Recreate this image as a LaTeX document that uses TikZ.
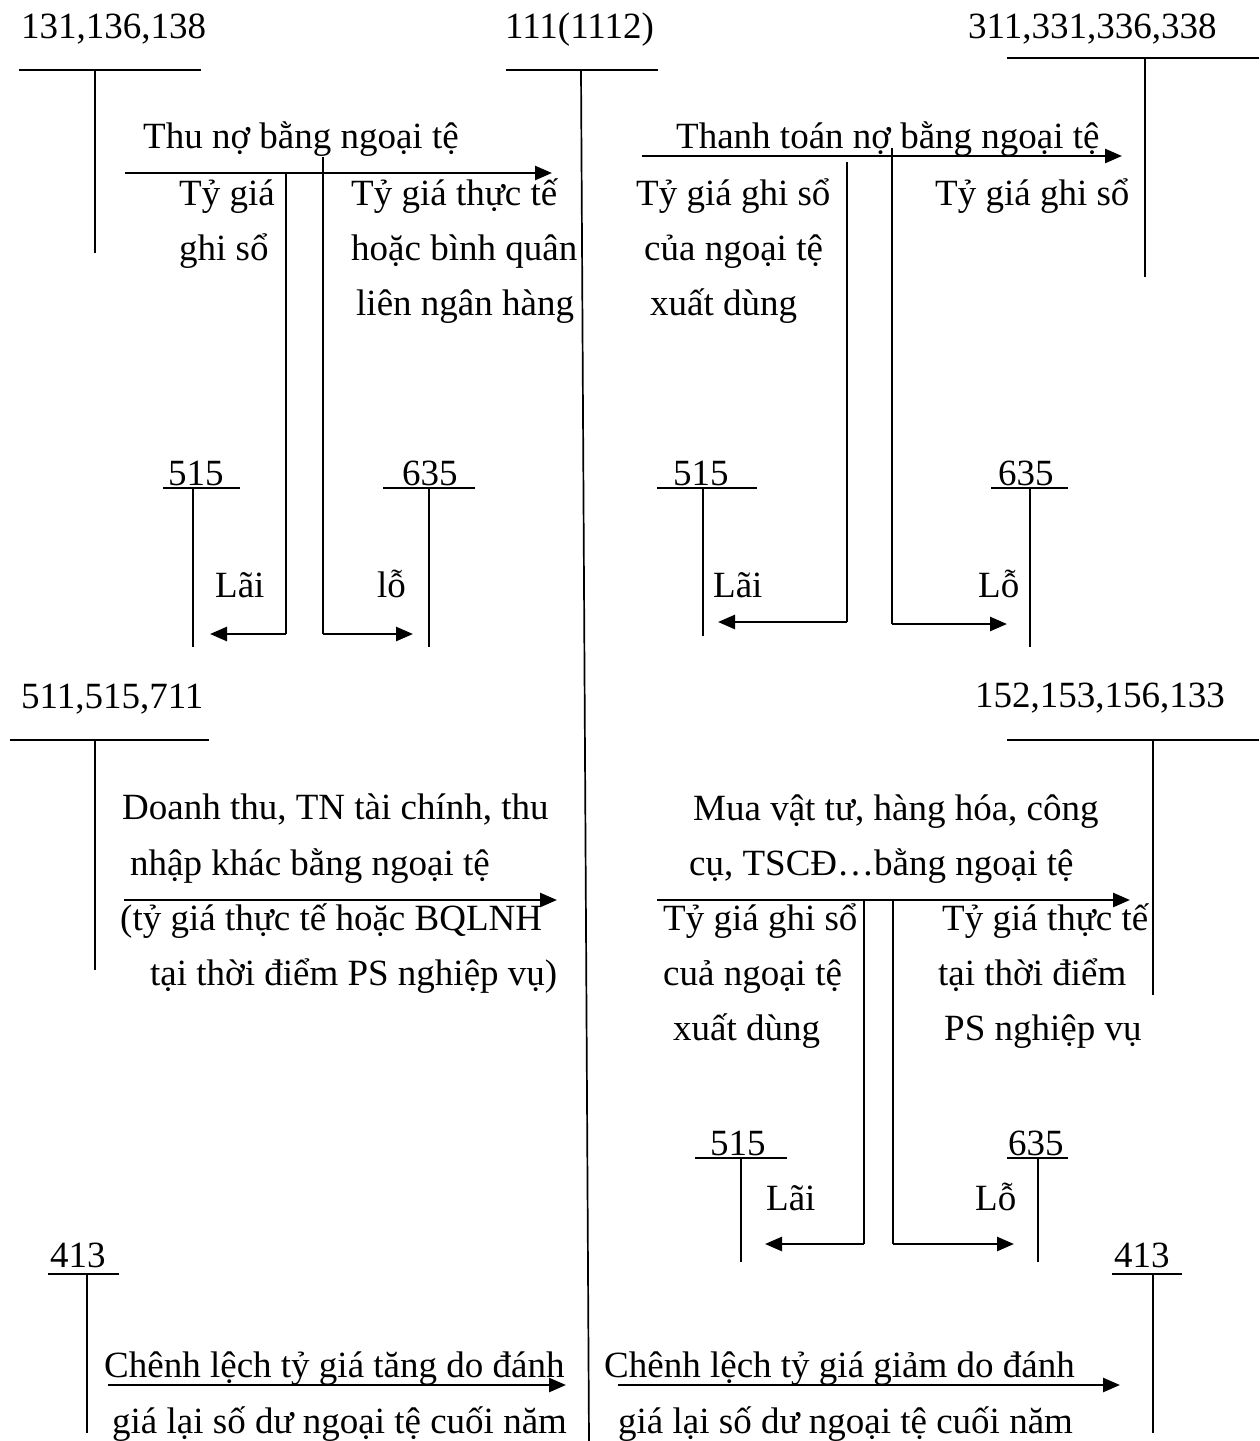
\documentclass[tikz,border=0pt]{standalone}
\usepackage{fontspec}
\setmainfont{Liberation Serif}
\usetikzlibrary{arrows.meta}
\begin{document}
\begin{tikzpicture}[x=1pt,y=-1pt,
  lbl/.style={anchor=base west,inner sep=0pt,font=\fontsize{37}{44}\selectfont},
  tline/.style={line width=1.7pt},
  branch/.style={line width=2pt},
  flow/.style={line width=2.6pt,-{Triangle[length=17pt,width=14pt]}}]
\useasboundingbox (0,0) rectangle (1259,1441);

% ---------- account headers (top) ----------
\node[lbl] (a131) at (21,38) {131,136,138};
\node[lbl] (a111) at (505,38) {111(1112)};
\node[lbl] (a311) at (968,38) {311,331,336,338};
\draw[tline] (19,70) -- (201,70);  \draw[tline] (95,70) -- (95,253);
\draw[tline] (506,70) -- (658,70);
\coordinate (m111top) at (581,70); \coordinate (m111bot) at (589,1441);
\draw[tline] (m111top) -- (m111bot);
\draw[tline] (1007,58) -- (1259,58); \draw[tline] (1145,58) -- (1145,277);

% ---------- Thu no bang ngoai te ----------
\node[lbl] (t1) at (143,148) {Thu nợ bằng ngoại tệ};
\coordinate (f1s) at (125,173); \coordinate (f1e) at (552,173);
\draw[flow] (f1s) -- (f1e);
\node[lbl] (t1a) at (179,205) {Tỷ giá};
\node[lbl] (t1b) at (179,260) {ghi sổ};
\node[lbl] (t1c) at (351,205) {Tỷ giá thực tế};
\node[lbl] (t1d) at (351,260) {hoặc bình quân};
\node[lbl] (t1e) at (356,315) {liên ngân hàng};
\coordinate (b1a) at (286,173); \coordinate (b1b) at (286,634); \coordinate (b1c) at (210,634);
\draw[branch] (b1a) -- (b1b); \draw[flow] (b1b) -- (b1c);
\coordinate (b2a) at (323,157); \coordinate (b2b) at (323,634); \coordinate (b2c) at (413,634);
\draw[branch] (b2a) -- (b2b); \draw[flow] (b2b) -- (b2c);
\node[lbl] (k515a) at (168,485) {515};
\draw[tline] (163,488) -- (240,488); \draw[tline] (193,488) -- (193,647);
\node[lbl] (k635a) at (402,485) {635};
\draw[tline] (383,488) -- (475,488); \draw[tline] (429,488) -- (429,647);
\node[lbl] (lai1) at (215,597) {Lãi};
\node[lbl] (lo1) at (377,597) {lỗ};

% ---------- Thanh toan no ----------
\node[lbl] (t2) at (676,148) {Thanh toán nợ bằng ngoại tệ};
\coordinate (f2s) at (642,156); \coordinate (f2e) at (1122,156);
\draw[flow] (f2s) -- (f2e);
\node[lbl] (t2a) at (636,205) {Tỷ giá ghi sổ};
\node[lbl] (t2b) at (644,260) {của ngoại tệ};
\node[lbl] (t2c) at (650,315) {xuất dùng};
\node[lbl] (t2d) at (935,205) {Tỷ giá ghi sổ};
\coordinate (b3a) at (847,162); \coordinate (b3b) at (847,622); \coordinate (b3c) at (718,622);
\draw[branch] (b3a) -- (b3b); \draw[flow] (b3b) -- (b3c);
\coordinate (b4a) at (892,148); \coordinate (b4b) at (892,624); \coordinate (b4c) at (1007,624);
\draw[branch] (b4a) -- (b4b); \draw[flow] (b4b) -- (b4c);
\node[lbl] (k515b) at (673,485) {515};
\draw[tline] (657,488) -- (757,488); \draw[tline] (703,488) -- (703,636);
\node[lbl] (k635b) at (998,485) {635};
\draw[tline] (991,488) -- (1068,488); \draw[tline] (1030,488) -- (1030,647);
\node[lbl] (lai2) at (713,597) {Lãi};
\node[lbl] (lo2) at (978,597) {Lỗ};

% ---------- Doanh thu ----------
\node[lbl] (a511) at (21,708) {511,515,711};
\draw[tline] (10,740) -- (209,740); \draw[tline] (95,740) -- (95,970);
\node[lbl] (t3a) at (122,819) {Doanh thu, TN tài chính, thu};
\node[lbl] (t3b) at (130,875) {nhập khác bằng ngoại tệ};
\coordinate (f3s) at (124,900); \coordinate (f3e) at (557,900);
\draw[flow] (f3s) -- (f3e);
\node[lbl] (t3c) at (120,930) {(tỷ giá thực tế hoặc BQLNH};
\node[lbl] (t3d) at (150,985) {tại thời điểm PS nghiệp vụ)};

% ---------- Mua vat tu ----------
\node[lbl] (a152) at (975,707) {152,153,156,133};
\draw[tline] (1007,740) -- (1259,740); \draw[tline] (1153,740) -- (1153,995);
\node[lbl] (t4a) at (693,820) {Mua vật tư, hàng hóa, công};
\node[lbl] (t4b) at (689,875) {cụ, TSCĐ…bằng ngoại tệ};
\coordinate (f4s) at (657,900); \coordinate (f4e) at (1130,900);
\draw[flow] (f4s) -- (f4e);
\node[lbl] (t4c) at (663,930) {Tỷ giá ghi sổ};
\node[lbl] (t4d) at (663,985) {cuả ngoại tệ};
\node[lbl] (t4e) at (673,1040) {xuất dùng};
\node[lbl] (t4f) at (942,930) {Tỷ giá thực tế};
\node[lbl] (t4g) at (938,985) {tại thời điểm};
\node[lbl] (t4h) at (944,1040) {PS nghiệp vụ};
\coordinate (b5a) at (864,900); \coordinate (b5b) at (864,1244); \coordinate (b5c) at (765,1244);
\draw[branch] (b5a) -- (b5b); \draw[flow] (b5b) -- (b5c);
\coordinate (b6a) at (893,900); \coordinate (b6b) at (893,1244); \coordinate (b6c) at (1014,1244);
\draw[branch] (b6a) -- (b6b); \draw[flow] (b6b) -- (b6c);
\node[lbl] (k515c) at (710,1155) {515};
\draw[tline] (695,1158) -- (787,1158); \draw[tline] (741,1158) -- (741,1262);
\node[lbl] (k635c) at (1008,1155) {635};
\draw[tline] (1007,1158) -- (1068,1158); \draw[tline] (1038,1158) -- (1038,1262);
\node[lbl] (lai3) at (766,1210) {Lãi};
\node[lbl] (lo3) at (975,1210) {Lỗ};

% ---------- Chenh lech ty gia ----------
\node[lbl] (k413a) at (50,1267) {413};
\draw[tline] (48,1274) -- (119,1274); \draw[tline] (87,1274) -- (87,1433);
\node[lbl] (k413b) at (1114,1267) {413};
\draw[tline] (1112,1274) -- (1182,1274); \draw[tline] (1153,1274) -- (1153,1433);
\node[lbl] (t5a) at (104,1377) {Chênh lệch tỷ giá tăng do đánh};
\coordinate (f5s) at (108,1385); \coordinate (f5e) at (566,1385);
\draw[flow] (f5s) -- (f5e);
\node[lbl] (t5b) at (112,1433) {giá lại số dư ngoại tệ cuối năm};
\node[lbl] (t6a) at (604,1377) {Chênh lệch tỷ giá giảm do đánh};
\coordinate (f6s) at (618,1385); \coordinate (f6e) at (1120,1385);
\draw[flow] (f6s) -- (f6e);
\node[lbl] (t6b) at (618,1433) {giá lại số dư ngoại tệ cuối năm};
\end{tikzpicture}
\end{document}
